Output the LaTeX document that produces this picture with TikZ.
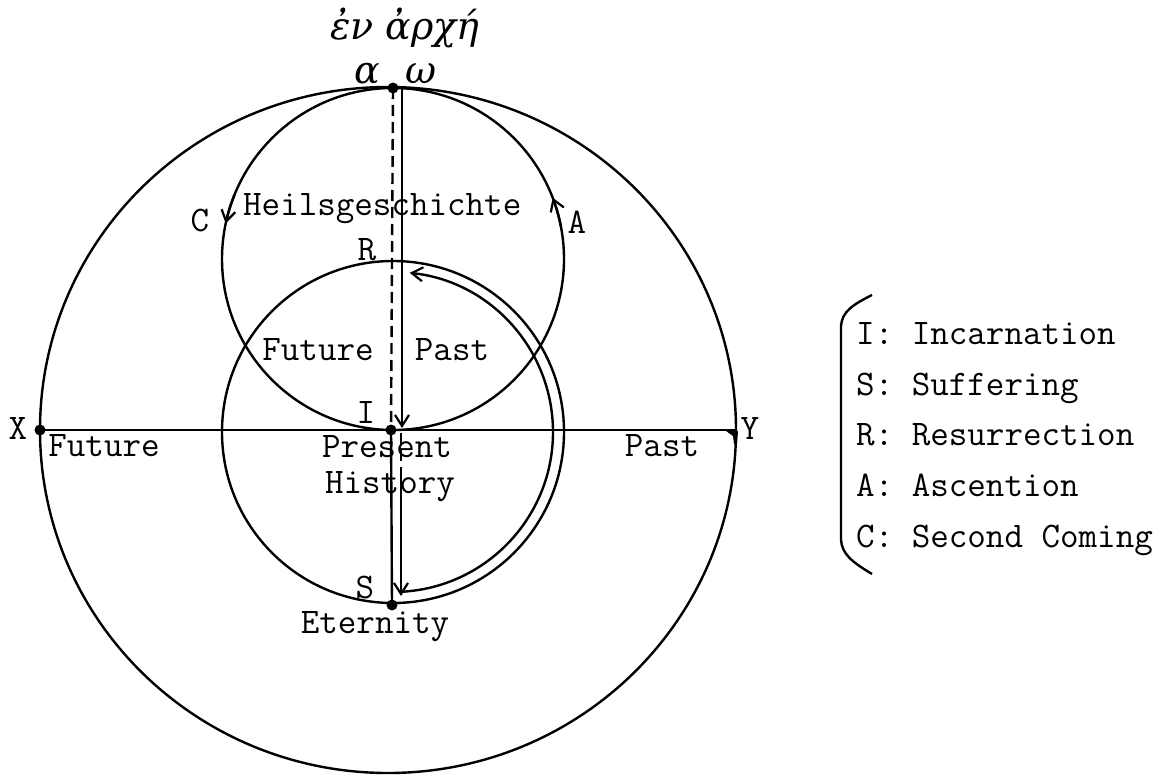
\documentclass[tikz,border=0pt]{standalone}
\usepackage{fontspec}
\newfontfamily\greekfont{DejaVu Serif}
\usetikzlibrary{arrows.meta,calc}
\begin{document}
\begin{tikzpicture}[x=1pt,y=-1pt, line width=2.4pt,
  lbl/.style={font=\fontsize{36}{40}\selectfont\ttfamily, inner sep=0pt},
  grk/.style={font=\fontsize{38}{42}\selectfont\greekfont\itshape, inner sep=0pt},
  dotmark/.style={circle, fill, inner sep=0pt, minimum size=11pt},
  barb/.style={-{Straight Barb[length=11pt,width=14pt,line width=2.2pt]}},
  dsh/.style={dash pattern=on 11pt off 6pt}
]
\useasboundingbox (0,0) rectangle (1167,776);
% centres
\coordinate (O) at (388,430);
\coordinate (U) at (393,259);
\coordinate (L) at (393,432);
% circles
\draw (O) ellipse [x radius=348, y radius=343];
\draw (U) circle [radius=171];
\draw (L) circle [radius=171];
% points
\node[dotmark] (top) at (393,88) {};
\node[dotmark] (I) at (391,430) {};
\node[dotmark] (S) at (392,605) {};
\node[dotmark] (X) at (40,430) {};
\coordinate (Y) at (735,430);
\coordinate (topR) at (402,89);
\coordinate (IR) at (402,428);
\coordinate (IR2) at (401,433);
\coordinate (IR3) at (401,475);
\coordinate (SR) at (401,596);
% horizontal diameter
\draw (X.center) -- (Y);
% vertical lines
\draw[dsh] (top.center) -- (I.center);
\draw[barb] (topR) -- (IR);
\draw (I.center) -- (S.center);
\draw[dsh] (IR2) -- (IR3);
\draw[barb] (IR3) -- (SR);
% inner return arc S -> R
\draw[barb] ($(L)+(87:160)$) arc[start angle=87, end angle=-84, radius=160];
% direction arrows on Heilsgeschichte circle
\draw[barb] ($(U)+(202:171)$) arc[start angle=202, end angle=192, radius=171];
\draw[barb] ($(U)+(349:171)$) arc[start angle=349, end angle=339, radius=171];
% mark at Y
\fill (726,431) -- (738,431) -- (737,444) -- (734,444) -- (733,436) -- cycle;
% labels
\node[grk] (arche) at (405,28) {ἐν ἀρχή};
\node[grk, anchor=base] (alpha) at (367,83) {α};
\node[grk, anchor=base] (omega) at (421,83) {ω};
\node[lbl] (Cl) at (200,221) {C};
\node[lbl, anchor=base west] (heil) at (242,215) {Heilsgeschichte};
\node[lbl] (Al) at (577,222) {A};
\node[lbl] (Rl) at (367,250) {R};
\node[lbl] (fut1) at (318,350) {Future};
\node[lbl] (past1) at (452,350) {Past};
\node[lbl] (Il) at (366,412) {I};
\node[lbl] (Xl) at (18,428) {X};
\node[lbl] (fut2) at (104,446) {Future};
\node[lbl] (present) at (387,447) {Present};
\node[lbl] (history) at (390,487) {History};
\node[lbl] (past2) at (662,446) {Past};
\node[lbl] (Yl) at (750,428) {Y};
\node[lbl] (Sl) at (365,587) {S};
\node[lbl] (eternity) at (375,627) {Eternity};
% legend
\draw (872,295) .. controls (852,305) and (842,312) .. (841,326) -- (841,540) .. controls (842,554) and (852,562) .. (872,574);
\node[lbl, anchor=base west] (lI) at (855,344) {I: Incarnation};
\node[lbl, anchor=base west] (lS) at (855,395) {S: Suffering};
\node[lbl, anchor=base west] (lR) at (855,445) {R: Resurrection};
\node[lbl, anchor=base west] (lA) at (855,496) {A: Ascention};
\node[lbl, anchor=base west] (lC) at (855,547) {C: Second Coming};
\end{tikzpicture}
\end{document}
